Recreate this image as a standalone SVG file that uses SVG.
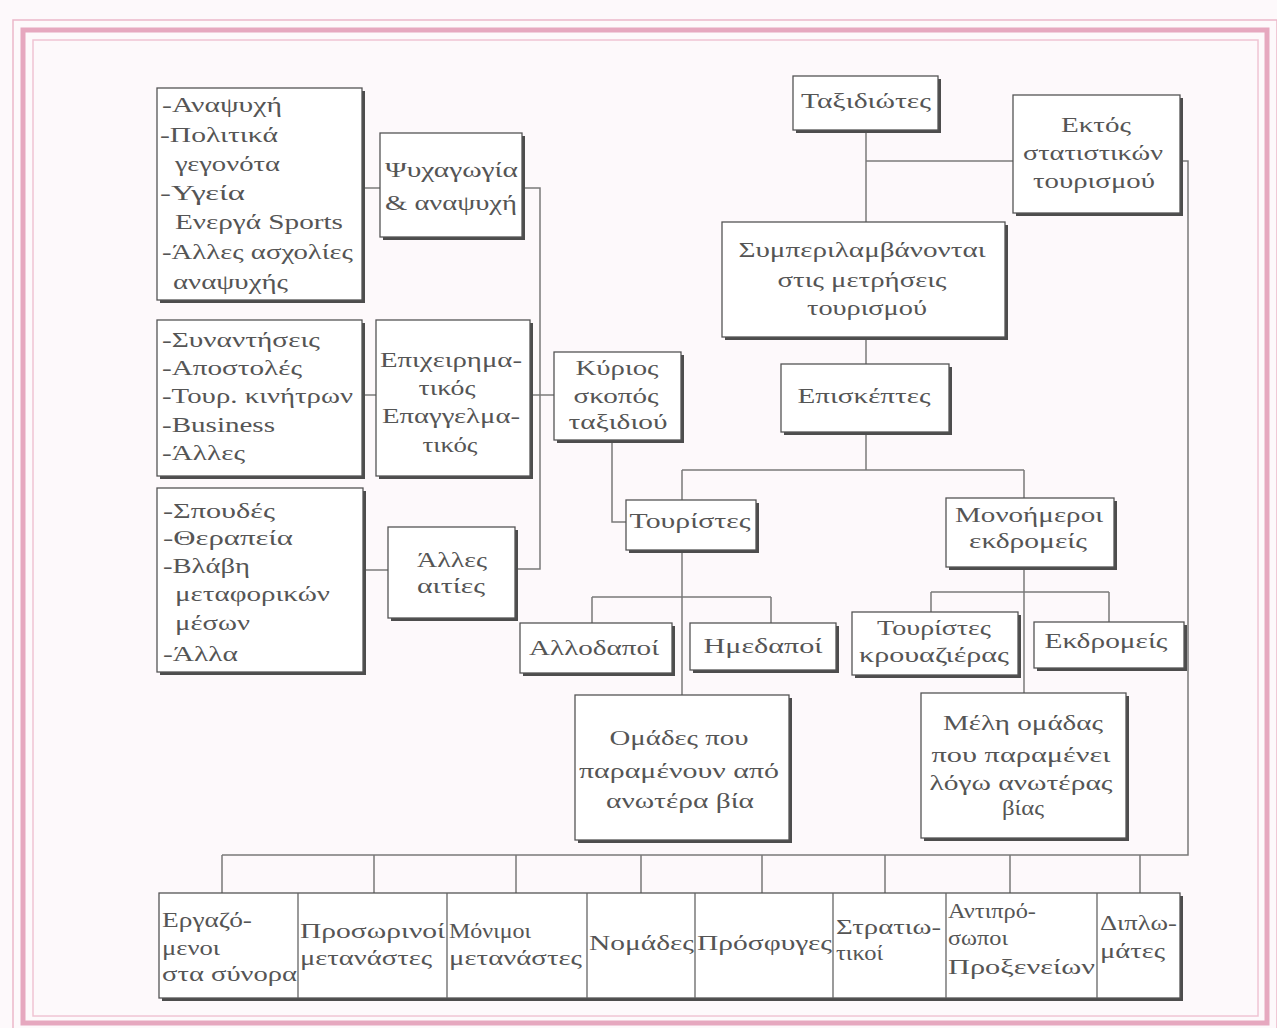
<svg xmlns="http://www.w3.org/2000/svg" width="1277" height="1028" viewBox="0 0 1277 1028">
<style>
.bg{fill:#fdf9fb}
.sh{fill:#4d4d4d}
.bx{fill:#ffffff;stroke:#555555;stroke-width:1.3}
.dv{stroke:#666666;stroke-width:1.3;fill:none}
.ln{stroke:#7a7a7a;stroke-width:1.5;fill:none}
text{font-family:"Liberation Serif","Times New Roman",serif;font-size:21px;fill:#555555}
.c{text-anchor:middle}
</style>
<rect class="bg" x="0" y="0" width="1277" height="1028"/>
<g id="frame" fill="none">
<rect x="13" y="20" width="1264" height="1010" stroke="#ebb8ca" stroke-width="1.5"/>
<rect x="23" y="30" width="1244" height="993" stroke="#e6a8bf" stroke-width="5"/>
<rect x="33" y="40" width="1225" height="976" stroke="#efc4d4" stroke-width="1.5"/>
</g>
<g id="connectors" class="ln">
<path d="M362 188H380"/>
<path d="M522 188H540V569H515"/>
<path d="M362 395H376"/>
<path d="M530 395H554"/>
<path d="M363 570H388"/>
<path d="M612 440V522H626"/>
<path d="M866 130V222"/>
<path d="M866 161H1013"/>
<path d="M1180 161H1188V855H222"/>
<path d="M222 855V893M374 855V893M516 855V893M641 855V893M762 855V893M885 855V893M1010 855V893M1140 855V893"/>
<path d="M866 337V364"/>
<path d="M866 432V470"/>
<path d="M682 470H1024M682 470V500M1024 470V498"/>
<path d="M682 550V695"/>
<path d="M592 597H771M592 597V623M771 597V623"/>
<path d="M1024 567V693"/>
<path d="M931 592H1109M931 592V612M1109 592V622"/>
</g>
<g id="n-taxidiotes">
<rect class="sh" x="796" y="79" width="145" height="54"/>
<rect class="bx" x="793" y="76" width="145" height="54"/>
<text class="c" x="866" y="108" textLength="130" lengthAdjust="spacingAndGlyphs">Ταξιδιώτες</text>
</g>
<g id="n-ektos">
<rect class="sh" x="1016" y="98" width="167" height="118"/>
<rect class="bx" x="1013" y="95" width="167" height="118"/>
<text class="c" x="1096" y="132" textLength="70" lengthAdjust="spacingAndGlyphs">Εκτός</text>
<text class="c" x="1093" y="160" textLength="140" lengthAdjust="spacingAndGlyphs">στατιστικών</text>
<text class="c" x="1094" y="188" textLength="122" lengthAdjust="spacingAndGlyphs">τουρισμού</text>
</g>
<g id="n-symper">
<rect class="sh" x="725" y="225" width="283" height="115"/>
<rect class="bx" x="722" y="222" width="283" height="115"/>
<text class="c" x="862" y="257" textLength="247" lengthAdjust="spacingAndGlyphs">Συμπεριλαμβάνονται</text>
<text class="c" x="862" y="287" textLength="169" lengthAdjust="spacingAndGlyphs">στις μετρήσεις</text>
<text class="c" x="867" y="315" textLength="120" lengthAdjust="spacingAndGlyphs">τουρισμού</text>
</g>
<g id="n-episkeptes">
<rect class="sh" x="784" y="367" width="168" height="68"/>
<rect class="bx" x="781" y="364" width="168" height="68"/>
<text class="c" x="864" y="403" textLength="133" lengthAdjust="spacingAndGlyphs">Επισκέπτες</text>
</g>
<g id="n-kyrios">
<rect class="sh" x="557" y="355" width="127" height="88"/>
<rect class="bx" x="554" y="352" width="127" height="88"/>
<text class="c" x="617" y="375" textLength="83" lengthAdjust="spacingAndGlyphs">Κύριος</text>
<text class="c" x="616" y="403" textLength="85" lengthAdjust="spacingAndGlyphs">σκοπός</text>
<text class="c" x="618" y="429" textLength="99" lengthAdjust="spacingAndGlyphs">ταξιδιού</text>
</g>
<g id="n-list-a">
<rect class="sh" x="160" y="91" width="205" height="212"/>
<rect class="bx" x="157" y="88" width="205" height="212"/>
<text x="162" y="112" textLength="120" lengthAdjust="spacingAndGlyphs">-Αναψυχή</text>
<text x="160" y="142" textLength="118" lengthAdjust="spacingAndGlyphs">-Πολιτικά</text>
<text x="175" y="171" textLength="105" lengthAdjust="spacingAndGlyphs">γεγονότα</text>
<text x="160" y="200" textLength="85" lengthAdjust="spacingAndGlyphs">-Υγεία</text>
<text x="175" y="229" textLength="168" lengthAdjust="spacingAndGlyphs">Ενεργά Sports</text>
<text x="162" y="259" textLength="191" lengthAdjust="spacingAndGlyphs">-Άλλες ασχολίες</text>
<text x="173" y="289" textLength="115" lengthAdjust="spacingAndGlyphs">αναψυχής</text>
</g>
<g id="n-psychagogia">
<rect class="sh" x="383" y="136" width="142" height="104"/>
<rect class="bx" x="380" y="133" width="142" height="104"/>
<text x="385" y="177" textLength="133" lengthAdjust="spacingAndGlyphs">Ψυχαγωγία</text>
<text x="385" y="210" textLength="132" lengthAdjust="spacingAndGlyphs">&amp; αναψυχή</text>
</g>
<g id="n-list-b">
<rect class="sh" x="160" y="323" width="205" height="156"/>
<rect class="bx" x="157" y="320" width="205" height="156"/>
<text x="162" y="347" textLength="158" lengthAdjust="spacingAndGlyphs">-Συναντήσεις</text>
<text x="162" y="375" textLength="140" lengthAdjust="spacingAndGlyphs">-Αποστολές</text>
<text x="162" y="403" textLength="191" lengthAdjust="spacingAndGlyphs">-Τουρ. κινήτρων</text>
<text x="162" y="432" textLength="113" lengthAdjust="spacingAndGlyphs">-Business</text>
<text x="162" y="460" textLength="83" lengthAdjust="spacingAndGlyphs">-Άλλες</text>
</g>
<g id="n-epix">
<rect class="sh" x="379" y="323" width="154" height="156"/>
<rect class="bx" x="376" y="320" width="154" height="156"/>
<text class="c" x="451" y="367" textLength="142" lengthAdjust="spacingAndGlyphs">Επιχειρημα-</text>
<text class="c" x="447" y="395" textLength="57" lengthAdjust="spacingAndGlyphs">τικός</text>
<text class="c" x="451" y="423" textLength="138" lengthAdjust="spacingAndGlyphs">Επαγγελμα-</text>
<text class="c" x="450" y="452" textLength="55" lengthAdjust="spacingAndGlyphs">τικός</text>
</g>
<g id="n-list-c">
<rect class="sh" x="160" y="491" width="206" height="184"/>
<rect class="bx" x="157" y="488" width="206" height="184"/>
<text x="163" y="518" textLength="112" lengthAdjust="spacingAndGlyphs">-Σπουδές</text>
<text x="163" y="545" textLength="130" lengthAdjust="spacingAndGlyphs">-Θεραπεία</text>
<text x="163" y="573" textLength="87" lengthAdjust="spacingAndGlyphs">-Βλάβη</text>
<text x="175" y="601" textLength="155" lengthAdjust="spacingAndGlyphs">μεταφορικών</text>
<text x="175" y="630" textLength="75" lengthAdjust="spacingAndGlyphs">μέσων</text>
<text x="163" y="661" textLength="75" lengthAdjust="spacingAndGlyphs">-Άλλα</text>
</g>
<g id="n-alles">
<rect class="sh" x="391" y="530" width="127" height="91"/>
<rect class="bx" x="388" y="527" width="127" height="91"/>
<text class="c" x="452" y="567" textLength="70" lengthAdjust="spacingAndGlyphs">Άλλες</text>
<text class="c" x="451" y="593" textLength="68" lengthAdjust="spacingAndGlyphs">αιτίες</text>
</g>
<g id="n-touristes">
<rect class="sh" x="629" y="503" width="130" height="50"/>
<rect class="bx" x="626" y="500" width="130" height="50"/>
<text class="c" x="690" y="528" textLength="121" lengthAdjust="spacingAndGlyphs">Τουρίστες</text>
</g>
<g id="n-monoimeroi">
<rect class="sh" x="949" y="501" width="168" height="69"/>
<rect class="bx" x="946" y="498" width="168" height="69"/>
<text class="c" x="1029" y="522" textLength="148" lengthAdjust="spacingAndGlyphs">Μονοήμεροι</text>
<text class="c" x="1028" y="548" textLength="118" lengthAdjust="spacingAndGlyphs">εκδρομείς</text>
</g>
<g id="n-allodapoi">
<rect class="sh" x="523" y="626" width="152" height="50"/>
<rect class="bx" x="520" y="623" width="152" height="50"/>
<text class="c" x="594" y="655" textLength="130" lengthAdjust="spacingAndGlyphs">Αλλοδαποί</text>
</g>
<g id="n-imedapoi">
<rect class="sh" x="693" y="626" width="146" height="47"/>
<rect class="bx" x="690" y="623" width="146" height="47"/>
<text class="c" x="763" y="653" textLength="119" lengthAdjust="spacingAndGlyphs">Ημεδαποί</text>
</g>
<g id="n-krouaziera">
<rect class="sh" x="855" y="615" width="166" height="63"/>
<rect class="bx" x="852" y="612" width="166" height="63"/>
<text class="c" x="934" y="635" textLength="114" lengthAdjust="spacingAndGlyphs">Τουρίστες</text>
<text class="c" x="934" y="662" textLength="150" lengthAdjust="spacingAndGlyphs">κρουαζιέρας</text>
</g>
<g id="n-ekdromeis">
<rect class="sh" x="1037" y="625" width="150" height="46"/>
<rect class="bx" x="1034" y="622" width="150" height="46"/>
<text class="c" x="1106" y="648" textLength="123" lengthAdjust="spacingAndGlyphs">Εκδρομείς</text>
</g>
<g id="n-omades">
<rect class="sh" x="578" y="698" width="214" height="145"/>
<rect class="bx" x="575" y="695" width="214" height="145"/>
<text class="c" x="679" y="745" textLength="139" lengthAdjust="spacingAndGlyphs">Ομάδες που</text>
<text class="c" x="679" y="778" textLength="200" lengthAdjust="spacingAndGlyphs">παραμένουν από</text>
<text class="c" x="680" y="808" textLength="148" lengthAdjust="spacingAndGlyphs">ανωτέρα βία</text>
</g>
<g id="n-meli">
<rect class="sh" x="924" y="696" width="205" height="145"/>
<rect class="bx" x="921" y="693" width="205" height="145"/>
<text class="c" x="1023" y="730" textLength="160" lengthAdjust="spacingAndGlyphs">Μέλη ομάδας</text>
<text class="c" x="1021" y="762" textLength="179" lengthAdjust="spacingAndGlyphs">που παραμένει</text>
<text class="c" x="1021" y="790" textLength="183" lengthAdjust="spacingAndGlyphs">λόγω ανωτέρας</text>
<text class="c" x="1023" y="815" textLength="42" lengthAdjust="spacingAndGlyphs">βίας</text>
</g>
<g id="n-bottom-row">
<rect class="sh" x="162" y="896" width="1021" height="105"/>
<rect class="bx" x="159" y="893" width="1021" height="105"/>
<path class="dv" d="M298 893V998M447 893V998M587 893V998M695 893V998M833 893V998M946 893V998M1097 893V998"/>
</g>
<g id="n-ergazomenoi">
<text x="162" y="927" textLength="90" lengthAdjust="spacingAndGlyphs">Εργαζό-</text>
<text x="162" y="955" textLength="58" lengthAdjust="spacingAndGlyphs">μενοι</text>
<text x="162" y="981" textLength="135" lengthAdjust="spacingAndGlyphs">στα σύνορα</text>
</g>
<g id="n-prosorinoi">
<text x="300" y="938" textLength="145" lengthAdjust="spacingAndGlyphs">Προσωρινοί</text>
<text x="300" y="965" textLength="132" lengthAdjust="spacingAndGlyphs">μετανάστες</text>
</g>
<g id="n-monimoi">
<text x="449" y="938" textLength="82" lengthAdjust="spacingAndGlyphs">Μόνιμοι</text>
<text x="449" y="965" textLength="133" lengthAdjust="spacingAndGlyphs">μετανάστες</text>
</g>
<g id="n-nomades">
<text x="589" y="950" textLength="105" lengthAdjust="spacingAndGlyphs">Νομάδες</text>
</g>
<g id="n-prosfyges">
<text x="697" y="950" textLength="135" lengthAdjust="spacingAndGlyphs">Πρόσφυγες</text>
</g>
<g id="n-stratiotikoi">
<text x="836" y="934" textLength="105" lengthAdjust="spacingAndGlyphs">Στρατιω-</text>
<text x="836" y="960" textLength="47" lengthAdjust="spacingAndGlyphs">τικοί</text>
</g>
<g id="n-antiprosopoi">
<text x="948" y="918" textLength="88" lengthAdjust="spacingAndGlyphs">Αντιπρό-</text>
<text x="948" y="945" textLength="60" lengthAdjust="spacingAndGlyphs">σωποι</text>
<text x="948" y="974" textLength="147" lengthAdjust="spacingAndGlyphs">Προξενείων</text>
</g>
<g id="n-diplomates">
<text x="1100" y="930" textLength="77" lengthAdjust="spacingAndGlyphs">Διπλω-</text>
<text x="1100" y="958" textLength="65" lengthAdjust="spacingAndGlyphs">μάτες</text>
</g>
</svg>
